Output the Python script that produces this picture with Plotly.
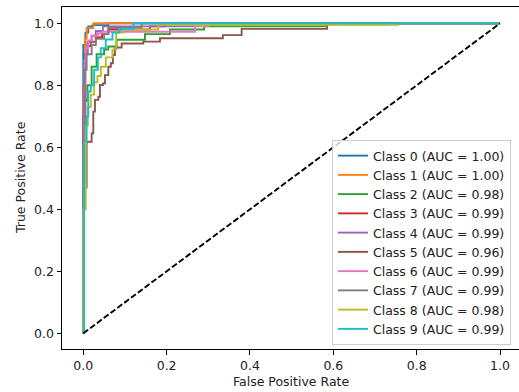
import plotly.graph_objects as go

class_names = ["Class 0", "Class 1", "Class 2", "Class 3", "Class 4",
               "Class 5", "Class 6", "Class 7", "Class 8", "Class 9"]
auc_values = [1.00, 1.00, 0.98, 0.99, 0.99, 0.96, 0.99, 0.99, 0.98, 0.99]

# ROC points: (fpr where tpr jumps, tpr after the jump)
fpr0 = [0, 0, 0.005, 0.012, 0.022, 0.06, 1.0]
tpr0 = [0, 0.93, 0.97, 0.99, 0.994, 1.0, 1.0]
fpr1 = [0, 0, 0.004, 0.008, 0.024, 1.0]
tpr1 = [0, 0.80, 0.95, 0.985, 1.0, 1.0]
fpr2 = [0, 0, 0.004, 0.01, 0.02, 0.032, 0.05, 0.06, 0.08, 0.148, 0.208, 0.29, 0.58, 1.0]
tpr2 = [0, 0.55, 0.75, 0.80, 0.86, 0.90, 0.915, 0.925, 0.947, 0.965, 0.98, 0.99, 1.0, 1.0]
fpr3 = [0, 0, 0.005, 0.01, 0.018, 0.03, 0.045, 0.06, 0.16, 0.196, 1.0]
tpr3 = [0, 0.70, 0.90, 0.927, 0.94, 0.955, 0.965, 0.98, 0.99, 1.0, 1.0]
fpr4 = [0, 0, 0.004, 0.01, 0.02, 0.03, 0.047, 0.263, 0.73, 1.0]
tpr4 = [0, 0.80, 0.90, 0.94, 0.96, 0.975, 0.99, 0.997, 1.0, 1.0]
fpr5 = [0, 0, 0.008, 0.020, 0.024, 0.028, 0.036, 0.040, 0.047, 0.052, 0.060, 0.066,
        0.071, 0.076, 0.079, 0.092, 0.144, 0.184, 0.335, 0.38, 0.585, 1.0]
tpr5 = [0, 0.47, 0.618, 0.645, 0.715, 0.753, 0.763, 0.801, 0.806, 0.833, 0.860, 0.871,
        0.898, 0.919, 0.922, 0.935, 0.941, 0.952, 0.962, 0.982, 1.0, 1.0]
fpr6 = [0, 0, 0.003, 0.006, 0.012, 0.02, 0.035, 0.044, 0.268, 0.30, 1.0]
tpr6 = [0, 0.60, 0.88, 0.92, 0.945, 0.96, 0.968, 0.973, 0.99, 1.0, 1.0]
fpr7 = [0, 0, 0.003, 0.008, 0.02, 0.03, 0.05, 0.06, 0.14, 1.0]
tpr7 = [0, 0.60, 0.85, 0.90, 0.93, 0.95, 0.965, 0.985, 1.0, 1.0]
fpr8 = [0, 0, 0.006, 0.011, 0.018, 0.026, 0.034, 0.042, 0.054, 0.070, 0.079, 0.096, 0.18, 0.755, 1.0]
tpr8 = [0, 0.40, 0.67, 0.73, 0.77, 0.81, 0.83, 0.86, 0.89, 0.915, 0.97, 0.98, 0.995, 1.0, 1.0]
fpr9 = [0, 0.002, 0.008, 0.012, 0.018, 0.026, 0.035, 0.042, 0.054, 0.07, 0.086, 0.12, 1.0]
tpr9 = [0, 0.62, 0.70, 0.78, 0.80, 0.85, 0.89, 0.92, 0.948, 0.97, 0.982, 1.0, 1.0]

diag_x = [0, 1]
diag_y = [0, 1]

x_ticks = [0.0, 0.2, 0.4, 0.6, 0.8, 1.0]
y_ticks = [0.0, 0.2, 0.4, 0.6, 0.8, 1.0]

colors = ["#1f77b4", "#ff7f0e", "#2ca02c", "#d62728", "#9467bd",
          "#8c564b", "#e377c2", "#7f7f7f", "#bcbd22", "#17becf"]

fprs = [fpr0, fpr1, fpr2, fpr3, fpr4, fpr5, fpr6, fpr7, fpr8, fpr9]
tprs = [tpr0, tpr1, tpr2, tpr3, tpr4, tpr5, tpr6, tpr7, tpr8, tpr9]

FONT = "DejaVu Sans"
TXT = "#222"
fig = go.Figure()
for i in range(10):
    fig.add_trace(go.Scatter(
        x=fprs[i], y=tprs[i], mode="lines",
        line=dict(color=colors[i], width=1.9, shape="hv"),
        name=f"{class_names[i]} (AUC = {auc_values[i]:.2f})",
    ))
fig.add_trace(go.Scatter(
    x=diag_x, y=diag_y, mode="lines", showlegend=False,
    line=dict(color="black", width=1.9, dash="6px,2.5px"),
))

W, H = 519, 392
L, R, T, B = 62, 0, 7, 43
PW, PH = W - L - R, H - T - B
fig.update_layout(
    width=W, height=H,
    margin=dict(l=L, r=R, t=T, b=B, pad=0, autoexpand=False),
    paper_bgcolor="white", plot_bgcolor="white",
    font=dict(family=FONT, size=12.5, color=TXT),
    showlegend=True,
    legend=dict(
        x=(332 - L) / PW, y=(H - B - 345) / PH, xanchor="left", yanchor="bottom",
        bgcolor="rgba(255,255,255,0.8)", bordercolor="#cccccc", borderwidth=1,
        font=dict(family=FONT, size=12.5, color=TXT),
        tracegroupgap=0, itemwidth=30,
    ),
    annotations=[
        dict(text="False Positive Rate", xref="paper", yref="paper",
             x=0.5, y=(H - B - 381) / PH, xanchor="center", yanchor="middle",
             showarrow=False, font=dict(family=FONT, size=12.5, color=TXT)),
        dict(text="True Positive Rate", xref="paper", yref="paper",
             x=(20 - L) / PW, y=(H - B - 178) / PH, xanchor="center", yanchor="middle",
             textangle=-90, showarrow=False, font=dict(family=FONT, size=12.5, color=TXT)),
    ],
)
fig.update_xaxes(
    range=[-0.0511, 1.0456], tickvals=x_ticks, ticktext=[f"{v:.1f}" for v in x_ticks],
    showgrid=False, zeroline=False, showline=True, linecolor="black", linewidth=1,
    mirror=True, ticks="outside", ticklen=4.5, tickcolor="black", automargin=False,
    tickfont=dict(family=FONT, size=12.5, color=TXT),
)
fig.update_yaxes(
    range=[-0.0506, 1.0526], tickvals=y_ticks, ticktext=[f"{v:.1f}" for v in y_ticks],
    showgrid=False, zeroline=False, showline=True, linecolor="black", linewidth=1,
    mirror=False, ticks="outside", ticklen=4.5, tickcolor="black", automargin=False,
    tickfont=dict(family=FONT, size=12.5, color=TXT),
)
fig.write_html(
    "out.html",
    config={"displayModeBar": False, "staticPlot": True},
    post_script="document.body.style.margin='0';document.body.style.overflow='hidden';",
)
